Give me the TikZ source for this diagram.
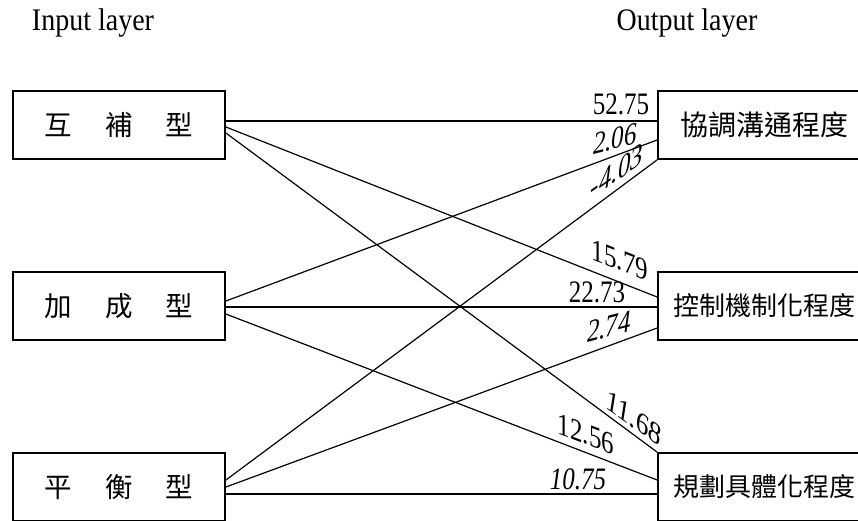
\documentclass[tikz,border=0pt]{standalone}
\usepackage{graphicx}
\usepackage{fontspec}
\setmainfont{Liberation Serif}
\newfontfamily\cjkfont{Noto Sans CJK TC}
% serif labels are set a little taller than wide
\newcommand{\tallset}[2][1.25]{\scalebox{1}[#1]{#2}}
\begin{document}
\begin{tikzpicture}[x=1pt,y=-1pt,
  layerbox/.style={draw, line width=1.8pt, minimum width=212pt, minimum height=68pt,
    inner sep=0pt, font=\cjkfont\fontsize{27.5}{27.5}\selectfont},
  outbox/.style={layerbox, font=\cjkfont\fontsize{26}{26}\selectfont},
  link/.style={line width=1.2pt},
  weight/.style={inner sep=0pt, font=\fontsize{25}{25}\selectfont},
  weighti/.style={inner sep=0pt, font=\fontsize{25}{25}\selectfont\itshape},
  heading/.style={inner sep=0pt, font=\fontsize{28}{28}\selectfont}]
\useasboundingbox (0,0) rectangle (858,520);

% layer headings
\node[heading] (hin) at (93,23) {\tallset[1.12]{Input layer}};
\node[heading] (hout) at (687,23) {\tallset[1.12]{Output layer}};

% input units
\node[layerbox] (in1) at (119,125) {互\hspace{33pt}補\hspace{33pt}型};
\node[layerbox] (in2) at (119,306) {加\hspace{33pt}成\hspace{33pt}型};
\node[layerbox] (in3) at (119,487) {平\hspace{33pt}衡\hspace{33pt}型};

% output units (right edge runs past the page)
\node[outbox, font=\cjkfont\fontsize{28}{28}\selectfont] (out1) at (764,125) {協調溝通程度};
\node[outbox] (out2) at (764,306) {控制機制化程度};
\node[outbox] (out3) at (764,487) {規劃具體化程度};

% connections
\draw[link] ([yshift=4pt]in1.east) -- ([yshift=4pt]out1.west);
\draw[link] ([yshift=-2pt]in1.east) -- ([yshift=9pt]out2.west);
\draw[link] ([yshift=-8pt]in1.east) -- (out3.north west);

\draw[link] ([yshift=5pt]in2.east) -- ([yshift=-15pt]out1.west);
\draw[link] ([yshift=-1pt]in2.east) -- ([yshift=-1pt]out2.west);
\draw[link] ([yshift=-8pt]in2.east) -- ([yshift=7pt]out3.west);

\draw[link] ([yshift=7pt]in3.east) -- (out1.south west);
\draw[link] (in3.east) -- ([yshift=-22pt]out2.west);
\draw[link] ([yshift=-7pt]in3.east) -- ([yshift=-7pt]out3.west);

% weights; sloped ones are sheared to follow their lines
\node[weight] (w11) at (621,104) {\tallset{52.75}};
\node[weighti, yslant=0.24] (w21) at (615,139) {\tallset{2.06}};
\node[weighti, yslant=0.7] (w31) at (617,171) {\tallset{-4.03}};
\node[weight, yslant=-0.39] (w12) at (620,260) {\tallset{15.79}};
\node[weight] (w22) at (597,292) {\tallset{22.73}};
\node[weighti, yslant=0.26] (w32) at (609,327) {\tallset{2.74}};
\node[weighti, yslant=-0.72] (w13) at (634,418) {\tallset{11.68}};
\node[weight, yslant=-0.38] (w23) at (586,434) {\tallset{12.56}};
\node[weighti] (w33) at (578,479) {\tallset{10.75}};
\end{tikzpicture}
\end{document}
